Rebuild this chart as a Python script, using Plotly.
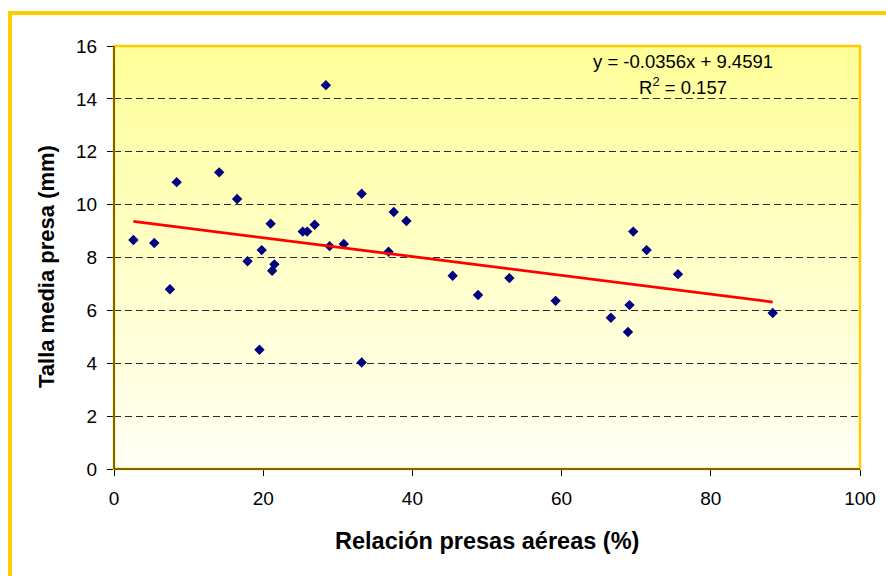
import base64
import struct
import zlib

import plotly.graph_objects as go

# Relación presas aéreas (%) vs talla media de presa (mm)
rel_aereas = [2.6, 5.4, 7.5, 8.4, 14.1, 16.5, 17.9, 19.5, 19.8, 21.0, 21.5, 21.2,
              25.3, 25.9, 26.9, 28.4, 28.9, 30.8, 33.2, 33.2, 36.8, 37.5, 39.2,
              45.4, 48.8, 53.0, 59.2, 66.6, 68.9, 69.1, 69.6, 71.4, 75.6, 88.3]
talla_media = [8.66, 8.55, 6.80, 10.85, 11.22, 10.21, 7.86, 4.51, 8.28, 9.28, 7.74, 7.50,
               8.98, 8.98, 9.24, 14.52, 8.43, 8.51, 10.41, 4.03, 8.22, 9.72, 9.38,
               7.31, 6.58, 7.22, 6.36, 5.72, 5.18, 6.20, 8.98, 8.28, 7.37, 5.90]

# Linear trend reported on the chart
slope = -0.0356
intercept = 9.4591
r2 = 0.157

x_ticks = [0, 20, 40, 60, 80, 100]
y_ticks = [0, 2, 4, 6, 8, 10, 12, 14, 16]

W, H = 886, 576
M_L, M_R, M_T, M_B = 114, 26, 46, 107
plot_w = W - M_L - M_R
plot_h = H - M_T - M_B


def px_to_paper(px, py):
    return (px - M_L) / plot_w, (H - M_B - py) / plot_h


def gradient_png(top, bottom, rows=128):
    """Tiny vertical-gradient PNG encoded as a data URI."""
    raw = b""
    for i in range(rows):
        t = i / (rows - 1)
        px = bytes(round(top[k] + (bottom[k] - top[k]) * t) for k in range(3))
        raw += b"\x00" + px * 2
    def chunk(tag, data):
        c = struct.pack(">I", len(data)) + tag + data
        return c + struct.pack(">I", zlib.crc32(tag + data) & 0xFFFFFFFF)
    png = b"\x89PNG\r\n\x1a\n"
    png += chunk(b"IHDR", struct.pack(">IIBBBBB", 2, rows, 8, 2, 0, 0, 0))
    png += chunk(b"IDAT", zlib.compress(raw, 9))
    png += chunk(b"IEND", b"")
    return "data:image/png;base64," + base64.b64encode(png).decode()


x_fit = [min(rel_aereas), max(rel_aereas)]
y_fit = [intercept + slope * v for v in x_fit]

fig = go.Figure()
fig.add_trace(go.Scatter(
    x=rel_aereas, y=talla_media, mode="markers",
    marker=dict(symbol="diamond", size=8, color="#000080"),
    hoverinfo="x+y", showlegend=False,
))
fig.add_trace(go.Scatter(
    x=x_fit, y=y_fit, mode="lines",
    line=dict(color="#FF0000", width=2.8),
    hoverinfo="skip", showlegend=False,
))

font_family = "Liberation Sans, Arial, sans-serif"

fig.update_layout(
    width=W, height=H,
    margin=dict(l=M_L, r=M_R, t=M_T, b=M_B, autoexpand=False),
    paper_bgcolor="#FFFFFF",
    plot_bgcolor="#FFFFF5",
    font=dict(family=font_family, size=19, color="#000000"),
    xaxis=dict(
        range=[0, 100], tickvals=x_ticks, ticktext=[str(v) for v in x_ticks],
        ticks="outside", ticklen=6, tickcolor="#000000",
        showgrid=False, zeroline=False, showline=False,
        tickfont=dict(size=19), ticklabelstandoff=6,
    ),
    yaxis=dict(
        range=[0, 16], tickvals=y_ticks, ticktext=[str(v) for v in y_ticks],
        ticks="outside", ticklen=6, tickcolor="#000000",
        showgrid=True, gridcolor="#2b2b2b", gridwidth=1, griddash="7px,4px",
        zeroline=False, showline=False,
        tickfont=dict(size=19), ticklabelstandoff=6,
    ),
    images=[dict(
        source=gradient_png((255, 255, 153), (255, 255, 246)),
        xref="x", yref="y", x=0, y=16, sizex=100, sizey=16,
        xanchor="left", yanchor="top", sizing="stretch", layer="below",
    )],
)

# Outer chart frame
fx0, fy0 = px_to_paper(10, 13)
fx1, fy1 = px_to_paper(W + 20, H + 20)
fig.add_shape(type="rect", xref="paper", yref="paper",
              x0=fx0, y0=fy1, x1=fx1, y1=fy0,
              line=dict(color="#FFCC00", width=4), layer="above")

# Plot-area border and the two black axis lines
fig.add_shape(type="rect", xref="paper", yref="paper", x0=0, y0=0, x1=1, y1=1,
              line=dict(color="#FFCC00", width=2.5), layer="above")
fig.add_shape(type="line", xref="paper", yref="paper", x0=0, y0=0, x1=0, y1=1,
              line=dict(color="#000000", width=1), layer="above")
fig.add_shape(type="line", xref="paper", yref="paper", x0=0, y0=0, x1=1, y1=0,
              line=dict(color="#000000", width=1), layer="above")

# Axis titles
tx, ty = px_to_paper(487, 541)
fig.add_annotation(text="Relación presas aéreas (%)", xref="paper", yref="paper",
                   x=tx, y=ty, showarrow=False, xanchor="center", yanchor="middle",
                   font=dict(size=23.5, weight="bold"))
tx, ty = px_to_paper(46, 267)
fig.add_annotation(text="Talla media presa (mm)", xref="paper", yref="paper",
                   x=tx, y=ty, showarrow=False, xanchor="center", yanchor="middle",
                   textangle=-90, font=dict(size=22, weight="bold"))

# Trend-line equation
ex, ey = px_to_paper(683, 61)
fig.add_annotation(text=f"y = {slope:.4f}x + {intercept:.4f}", xref="paper", yref="paper",
                   x=ex, y=ey, showarrow=False, xanchor="center", yanchor="middle",
                   font=dict(size=18.5))
ex, ey = px_to_paper(683, 86)
fig.add_annotation(text=f"R<sup>2</sup> = {r2}", xref="paper", yref="paper",
                   x=ex, y=ey, showarrow=False, xanchor="center", yanchor="middle",
                   font=dict(size=18.5))

fig.write_html("out.html")
